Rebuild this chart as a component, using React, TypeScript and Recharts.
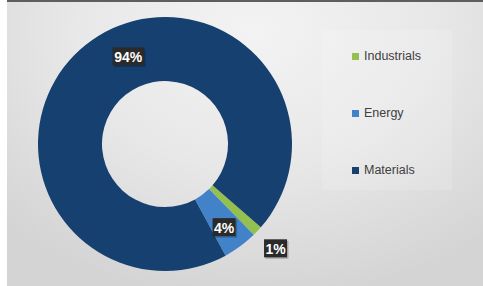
import { PieChart, Pie, Cell, Legend } from 'recharts'

const sectors = ['Industrials', 'Energy', 'Materials']
const shares = [1.3, 4.4, 94.3]
const sectorColors = ['#93c04f', '#4282c8', '#16406f']

// label placement per slice: radius from centre and shift from the slice's mid angle
const labelRadius = [152, 102, 95]
const labelAngleShift = [0, -1, -16]

const data = sectors.map((name, i) => ({ name, value: shares[i] }))
const total = shares.reduce((a, b) => a + b, 0)

const RAD = Math.PI / 180

function BoxLabel(props: any) {
  const { cx, cy, midAngle, index } = props
  const a = (midAngle + labelAngleShift[index]) * RAD
  const x = cx + labelRadius[index] * Math.cos(a)
  const y = cy - labelRadius[index] * Math.sin(a)
  const text = `${Math.round((shares[index] / total) * 100)}%`
  const w = text.length * 8.5 + 6
  return (
    <g>
      <rect x={x - w / 2 + 1.5} y={y - 9 + 1.5} width={w} height={18} fill="rgba(0,0,0,0.22)" />
      <rect x={x - w / 2} y={y - 9} width={w} height={18} fill="#2a2a2a" />
      <text
        x={x}
        y={y + 0.5}
        fill="#ffffff"
        textAnchor="middle"
        dominantBaseline="central"
        fontSize={14}
        fontWeight="bold"
        fontFamily="'Liberation Sans', sans-serif"
      >
        {text}
      </text>
    </g>
  )
}

function SectorLegend() {
  return (
    <div style={{ width: 130, height: 160, background: 'rgba(255,255,255,0.14)', position: 'relative' }}>
      {sectors.map((s, i) => (
        <div
          key={s}
          style={{
            position: 'absolute',
            left: 30,
            top: 18 + i * 57,
            display: 'flex',
            alignItems: 'center',
            fontFamily: "'Liberation Sans', sans-serif",
            fontSize: 12.5,
            color: '#404040',
            lineHeight: '16px',
          }}
        >
          <span style={{ width: 7, height: 7, background: sectorColors[i], marginRight: 5 }} />
          {s}
        </div>
      ))}
    </div>
  )
}

export default function App() {
  return (
    <div
      style={{
        position: 'absolute',
        left: 0,
        top: 0,
        width: 483,
        height: 286,
        background: '#ffffff',
      }}
    >
      <div
        style={{
          position: 'absolute',
          left: 7,
          top: 0,
          width: 476,
          height: 286,
          background: 'radial-gradient(ellipse 75% 95% at 52% 10%, #f3f3f3 0%, #e8e8e8 50%, #d4d4d4 100%)',
          borderTop: '2px solid #5e5e5e',
          boxSizing: 'border-box',
        }}
      />
      <div style={{ position: 'absolute', left: 0, top: 0 }}>
        <PieChart width={483} height={286} margin={{ top: 0, right: 0, bottom: 0, left: 0 }}>
          <Pie
            data={data}
            dataKey="value"
            nameKey="name"
            cx={165}
            cy={144}
            innerRadius={63}
            outerRadius={127}
            startAngle={-41}
            endAngle={-401}
            stroke="none"
            label={BoxLabel}
            labelLine={false}
            isAnimationActive={false}
          >
            {data.map((d, i) => (
              <Cell key={d.name} fill={sectorColors[i]} />
            ))}
          </Pie>
          <Legend
            content={<SectorLegend />}
            wrapperStyle={{ left: 322, top: 30, width: 130, height: 160 }}
          />
        </PieChart>
      </div>
    </div>
  )
}
